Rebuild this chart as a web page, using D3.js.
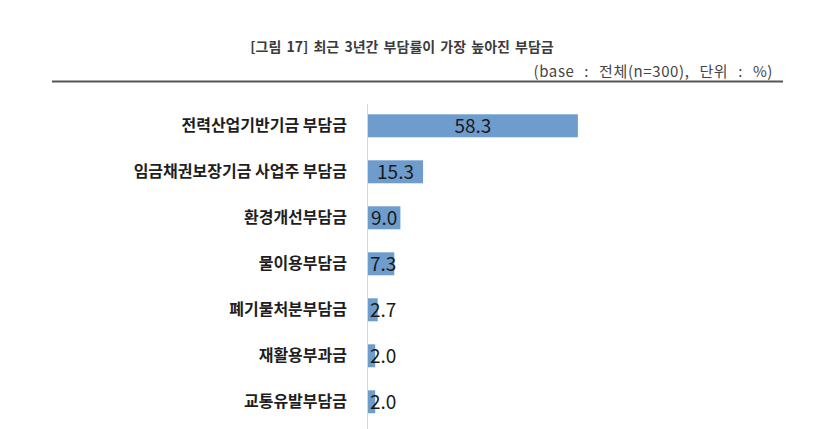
<!DOCTYPE html>
<html>
<head>
<meta charset="utf-8">
<script src="https://cdn.jsdelivr.net/npm/d3@7"></script>
<style>
  body { margin: 0; background: #fff; }
  text { font-family: "Noto Sans CJK KR", "Noto Sans", sans-serif; }
</style>
</head>
<body>
<div id="chart"></div>
<script>
var width = 830;
var height = 429;

// data
var categories = ["전력산업기반기금 부담금", "임금채권보장기금 사업주 부담금", "환경개선부담금",
  "물이용부담금", "폐기물처분부담금", "재활용부과금", "교통유발부담금"];
var values = [58.3, 15.3, 9.0, 7.3, 2.7, 2.0, 2.0];
var titleText = "[그림 17] 최근 3년간 부담률이 가장 높아진 부담금";
var baseText = "(base : 전체(n=300), 단위 : %)";

var data = categories.map(function(c, i) { return { label: c, value: values[i] }; });

var svg = d3.select("#chart").append("svg")
  .attr("width", width)
  .attr("height", height);

svg.append("rect").attr("width", width).attr("height", height).attr("fill", "#fff");

// title block
svg.append("text")
  .attr("x", 402).attr("y", 52)
  .attr("text-anchor", "middle")
  .style("font-size", "14px")
  .style("font-weight", "bold")
  .style("word-spacing", "2px")
  .style("fill", "#3c3c3c")
  .text(titleText);

svg.append("text")
  .attr("x", 773).attr("y", 77)
  .attr("text-anchor", "end")
  .style("font-size", "15px")
  .style("word-spacing", "6px")
  .style("letter-spacing", "0.6px")
  .style("fill", "#444")
  .text(baseText);

svg.append("line")
  .attr("x1", 52).attr("x2", 783)
  .attr("y1", 81.5).attr("y2", 81.5)
  .attr("stroke", "#555").attr("stroke-width", 2);

var x = d3.scaleLinear().domain([0, 70]).range([368, 620]);
var y = d3.scaleBand().domain(categories).range([102.8, 424.8])
  .paddingInner(0.5).paddingOuter(0.25);

// category axis (labels only)
var yAxis = svg.append("g")
  .attr("transform", "translate(" + x(0) + ",0)")
  .call(d3.axisLeft(y).tickSize(0).tickPadding(21));
yAxis.select(".domain").remove();
yAxis.selectAll("text")
  .style("font-size", "16px")
  .style("font-weight", "bold")
  .style("fill", "#1e1e1e");

svg.append("line")
  .attr("x1", x(0) - 0.5).attr("x2", x(0) - 0.5)
  .attr("y1", 104).attr("y2", height)
  .attr("stroke", "#d9d9d9").attr("stroke-width", 1);

// bars
svg.selectAll("rect.bar")
  .data(data)
  .enter()
  .append("rect")
    .attr("class", "bar")
    .attr("x", x(0))
    .attr("y", function(d) { return y(d.label); })
    .attr("width", function(d) { return x(d.value) - x(0); })
    .attr("height", y.bandwidth())
    .attr("fill", "#6e9dcd");

// value labels, centred in bar but kept right of the axis
svg.selectAll("text.val")
  .data(data)
  .enter()
  .append("text")
    .attr("class", "val")
    .attr("y", function(d) { return y(d.label) + y.bandwidth() / 2; })
    .attr("dy", "0.36em")
    .style("font-size", "19px")
    .style("fill", "#1a1a1a")
    .text(function(d) { return d.value.toFixed(1); })
    .each(function(d) {
      var w = this.getComputedTextLength();
      var cx = (x(0) + x(d.value)) / 2;
      d3.select(this).attr("x", Math.max(cx - w / 2, x(0) + 2));
    });
</script>
</body>
</html>
